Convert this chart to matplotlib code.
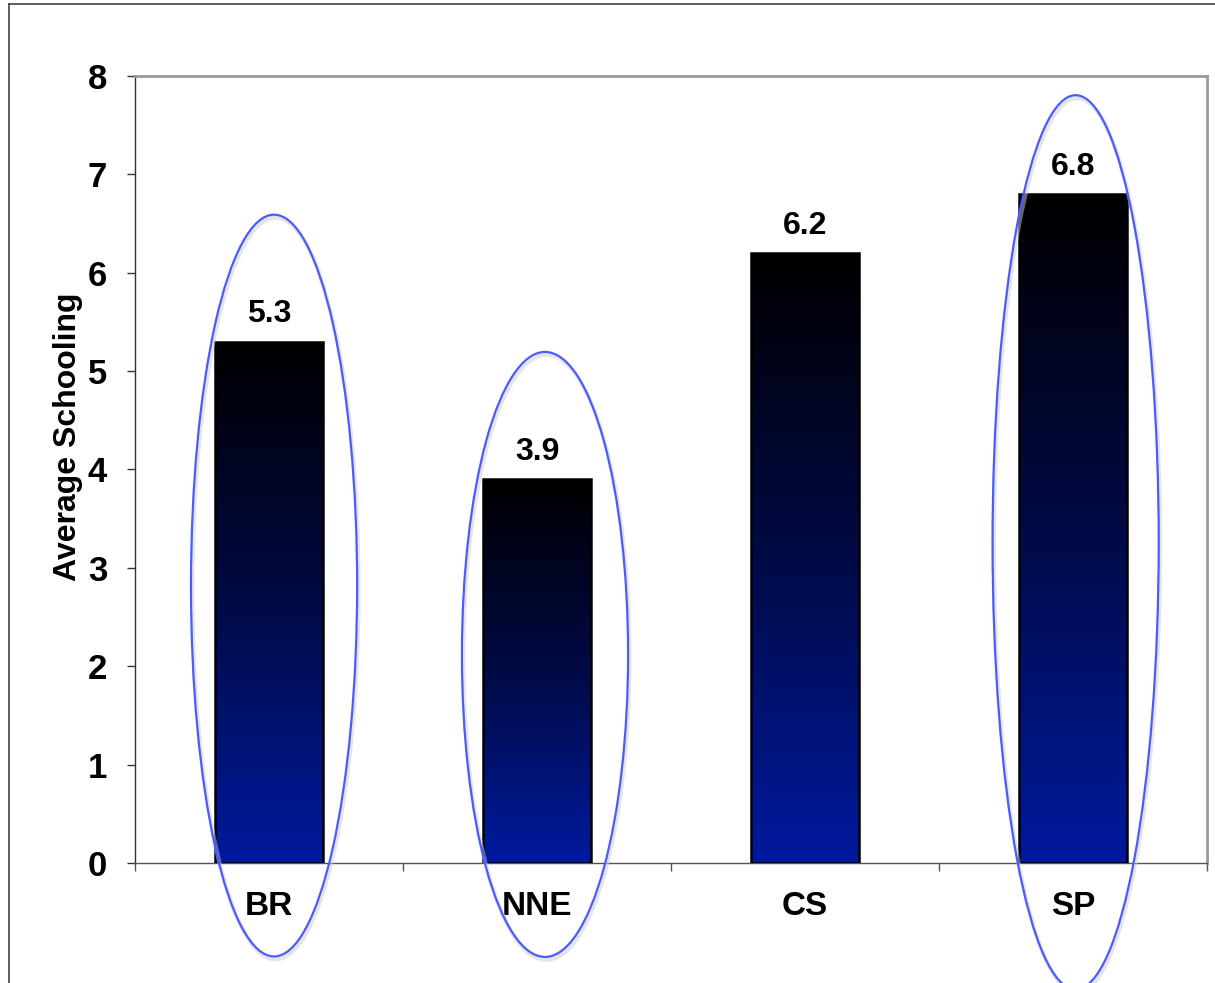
import numpy as np
import matplotlib
matplotlib.use("Agg")
import matplotlib.pyplot as plt
from matplotlib.patches import Ellipse
from matplotlib.lines import Line2D
from matplotlib.colors import LinearSegmentedColormap

plt.rcParams['font.family'] = ['Liberation Sans', 'DejaVu Sans']
plt.rcParams['font.weight'] = 'bold'

# regions and their average years of schooling
regions = ["BR", "NNE", "CS", "SP"]
schooling = [5.3, 3.9, 6.2, 6.8]
y_ticks = [0, 1, 2, 3, 4, 5, 6, 7, 8]

# highlighted regions: (index, x shift, center y, height) in data units
highlights = [(0, 0.019, 2.82, 7.54), (1, 0.03, 2.12, 6.15), (3, 0.01, 3.26, 9.09)]

fig = plt.figure(figsize=(12.15, 9.83), dpi=100)
ax = fig.add_axes([0.1111, 0.1221, 0.8823, 0.8006])

x = np.arange(len(regions))
bar_w = 0.4

# black (top) to blue (bottom) gradient for each bar
cmap = LinearSegmentedColormap.from_list("bk_blue", ["#000000", "#000a45", "#001a9e"])
grad = np.linspace(0, 1, 256).reshape(-1, 1)

bars = ax.bar(x, schooling, width=bar_w, color="none", edgecolor="black",
              linewidth=1.8, zorder=3)
for b in bars:
    x0, y0 = b.get_x(), b.get_y()
    w, h = b.get_width(), b.get_height()
    im = ax.imshow(grad, cmap=cmap, aspect="auto", extent=[x0, x0 + w, y0, y0 + h],
                   origin="upper", zorder=2, vmin=0, vmax=1)
    im.set_clip_path(b)

for xi, v in zip(x, schooling):
    ax.annotate(f"{v:.1f}", (xi, v), xytext=(0, 14), textcoords="offset points",
                ha="center", va="baseline", fontsize=23, fontweight="bold")

# ellipses drawn around the highlighted regions
for idx, dx, cy, hgt in highlights:
    shadow = Ellipse((x[idx] + dx + 0.005, cy - 0.03), 0.62, hgt, fill=False,
                     edgecolor="#cccccc", linewidth=3, alpha=0.5, zorder=4, clip_on=False)
    ax.add_patch(shadow)
    ell = Ellipse((x[idx] + dx, cy), 0.62, hgt, fill=False,
                  edgecolor="#4b5cff", linewidth=1.6, zorder=5, clip_on=False)
    ax.add_patch(ell)

ax.set_xlim(-0.5, len(regions) - 0.5)
ax.set_ylim(0, 8)
ax.set_yticks(y_ticks)
ax.tick_params(axis="y", direction="out", length=6, width=1, pad=14,
               labelsize=25, color="#333333")
ax.set_xticks(x)
ax.set_xticklabels(regions)
ax.tick_params(axis="x", which="major", length=0, pad=20, labelsize=24)
ax.set_xticks(np.arange(-0.5, len(regions)), minor=True)
ax.tick_params(axis="x", which="minor", direction="out", length=6, width=1,
               color="#555555")
for lbl in ax.get_xticklabels() + ax.get_yticklabels():
    lbl.set_fontweight("bold")

ax.spines["left"].set_color("#333333")
ax.spines["bottom"].set_color("#555555")
ax.spines["left"].set_linewidth(1.0)
ax.spines["bottom"].set_linewidth(1.0)
ax.spines["top"].set_color("#9a9a9a")
ax.spines["right"].set_color("#9a9a9a")
ax.spines["top"].set_linewidth(2.0)
ax.spines["right"].set_linewidth(2.0)

ax.text(-0.0625, 0.541, "Average Schooling", transform=ax.transAxes, rotation=90,
        ha="center", va="center", fontsize=23, fontweight="bold")

# outer frame (left and top edges)
fig.add_artist(Line2D([9 / 1215, 9 / 1215], [0, 1 - 4 / 983], color="#444444",
                      linewidth=1.2, transform=fig.transFigure))
fig.add_artist(Line2D([9 / 1215, 1], [1 - 4 / 983, 1 - 4 / 983], color="#444444",
                      linewidth=1.2, transform=fig.transFigure))

fig.savefig("out.png", dpi=100)
